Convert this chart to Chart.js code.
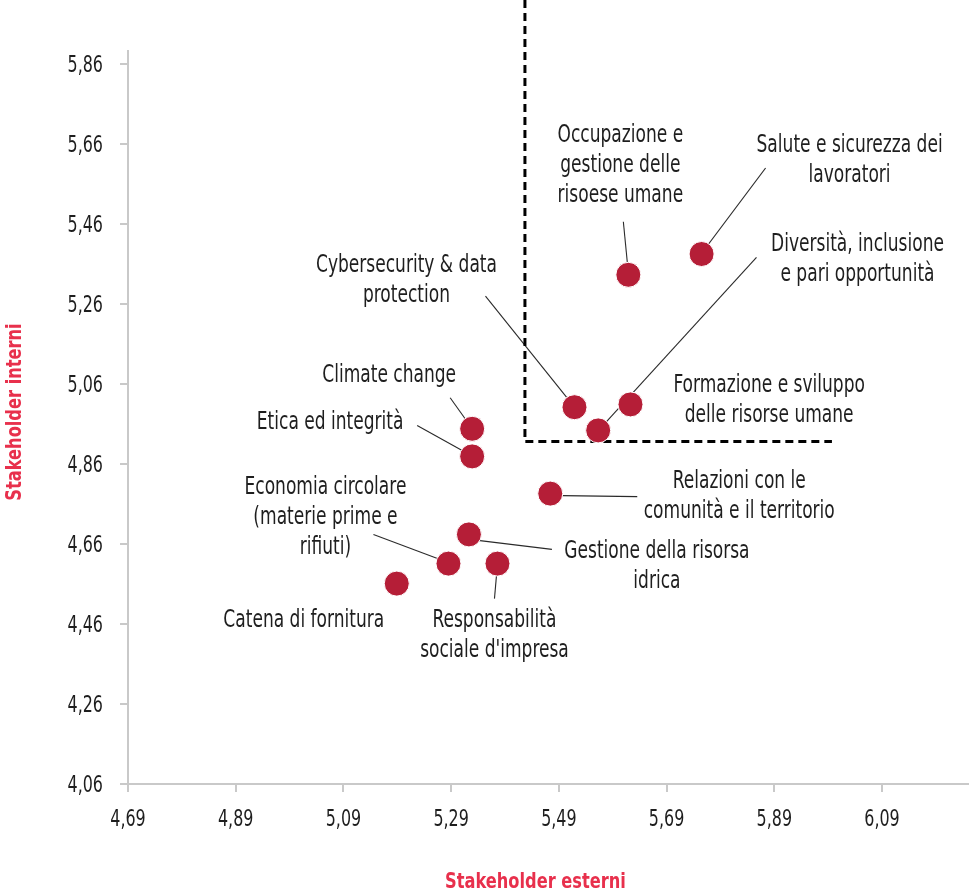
<!DOCTYPE html>
<html>
<head>
<meta charset="utf-8">
<script src="https://cdn.jsdelivr.net/npm/chart.js@4.4.1/dist/chart.umd.min.js"></script>
<style>
html,body{margin:0;padding:0;background:#ffffff;overflow:hidden;}
#wrap{width:969px;height:896px;position:relative;overflow:hidden;}
#c{display:block;}
</style>
</head>
<body>
<div id="wrap"><canvas id="c"></canvas></div>
<script>
// ---- DATA ----
const topics = [
  "Salute e sicurezza dei\nlavoratori",
  "Occupazione e\ngestione delle\nrisoese umane",
  "Cybersecurity & data\nprotection",
  "Formazione e sviluppo\ndelle risorse umane",
  "Diversità, inclusione\ne pari opportunità",
  "Relazioni con le\ncomunità e il territorio",
  "Climate change",
  "Etica ed integrità",
  "Gestione della risorsa\nidrica",
  "Economia circolare\n(materie prime e\nrifiuti)",
  "Responsabilità\nsociale d'impresa",
  "Catena di fornitura"
];
const stakeholderEsterni = [5.755, 5.619, 5.519, 5.563, 5.623, 5.474, 5.329, 5.329, 5.323, 5.285, 5.376, 5.189];
const stakeholderInterni = [5.385, 5.333, 5.002, 4.944, 5.009, 4.786, 4.948, 4.879, 4.684, 4.611, 4.611, 4.561];
const xTickValues = [4.69, 4.89, 5.09, 5.29, 5.49, 5.69, 5.89, 6.09];
const yTickValues = [4.06, 4.26, 4.46, 4.66, 4.86, 5.06, 5.26, 5.46, 5.66, 5.86];
const thresholdX = [5.427, 5.427, 5.997];
const thresholdY = [6.02, 4.916, 4.916];
const xTitle = "Stakeholder esterni";
const yTitle = "Stakeholder interni";

// ---- LABEL LAYOUT (pixel offsets from each point) ----
const labelLayout = [
  {dx: 148, dy: -108, leader: [64, -86, 7, -10]},
  {dx: -8, dy: -139, leader: [-5, -53, -1, -12]},
  {dx: -168, dy: -141, leader: [-89, -111, -8, -10]},
  {dx: 171, dy: -45, leader: null},
  {dx: 227, dy: -160, leader: [126, -147, -32, 26]},
  {dx: 189, dy: -12, leader: [12, 2, 87, 3]},
  {dx: -83, dy: -53, leader: [-22, -31, -7, -10]},
  {dx: -142, dy: -34, leader: [-55, -31, -10, -6]},
  {dx: 188, dy: 17, leader: [9, 6, 83, 15]},
  {dx: -123, dy: -76, leader: [-75, -29, -11, -5]},
  {dx: -3, dy: 57, leader: [-1, 12, -3, 35]},
  {dx: -93, dy: 37, leader: null}
];

const FONT = "'DejaVu Sans Condensed', 'Liberation Sans Narrow', 'DejaVu Sans', sans-serif";
const LABEL_SIZE = 24;
const LABEL_SX = 0.79;
const TICK_SIZE = 23;
const TICK_SX = 0.77;
const LINE_H = 30;
const AREA = {left: 128, top: 51, bottom: 784};

const fmt = v => Number(v).toFixed(2).replace('.', ',');

function squeezedText(ctx, text, x, y, sx) {
  ctx.save();
  ctx.translate(x, y);
  ctx.scale(sx, 1);
  ctx.fillText(text, 0, 0);
  ctx.restore();
}

const annotPlugin = {
  id: 'annot',
  beforeDatasetsDraw(chart) {
    const ctx = chart.ctx;
    const pts = chart.getDatasetMeta(0).data;
    ctx.save();
    ctx.strokeStyle = '#2a2a2a';
    ctx.lineWidth = 1.1;
    labelLayout.forEach((l, i) => {
      if (!l.leader) return;
      const p = pts[i];
      ctx.beginPath();
      ctx.moveTo(p.x + l.leader[0], p.y + l.leader[1]);
      ctx.lineTo(p.x + l.leader[2], p.y + l.leader[3]);
      ctx.stroke();
    });
    ctx.restore();
  },
  afterDatasetsDraw(chart) {
    const ctx = chart.ctx;
    const pts = chart.getDatasetMeta(0).data;
    ctx.save();
    ctx.fillStyle = '#1e1e1e';
    ctx.font = LABEL_SIZE + 'px ' + FONT;
    ctx.textAlign = 'center';
    ctx.textBaseline = 'middle';
    topics.forEach((t, i) => {
      const p = pts[i];
      const l = labelLayout[i];
      t.split('\n').forEach((line, k) => {
        squeezedText(ctx, line, p.x + l.dx, p.y + l.dy + k * LINE_H, LABEL_SX);
      });
    });
    // tick labels (positions from the library's scales)
    const xs = chart.scales.x, ys = chart.scales.y;
    ctx.font = TICK_SIZE + 'px ' + FONT;
    ctx.textBaseline = 'alphabetic';
    ctx.textAlign = 'center';
    xs.ticks.forEach(t => {
      squeezedText(ctx, fmt(t.value), xs.getPixelForValue(t.value), xs.top + 42, TICK_SX);
    });
    ctx.textAlign = 'right';
    ys.ticks.forEach(t => {
      squeezedText(ctx, fmt(t.value), ys.right - 25, ys.getPixelForValue(t.value) + 8.3, TICK_SX);
    });
    // axis titles
    ctx.fillStyle = '#e8304c';
    ctx.font = 'bold 22px ' + FONT;
    ctx.textAlign = 'center';
    ctx.textBaseline = 'middle';
    squeezedText(ctx, xTitle, 535.5, 882, 0.82);
    ctx.translate(15, 412);
    ctx.rotate(-Math.PI / 2);
    squeezedText(ctx, yTitle, 0, 0, 0.82);
    ctx.restore();
  }
};

new Chart(document.getElementById('c'), {
  type: 'scatter',
  data: {
    datasets: [
      {
        label: 'Temi materiali',
        data: stakeholderEsterni.map((x, i) => ({x: x, y: stakeholderInterni[i]})),
        backgroundColor: '#b51e37',
        borderColor: '#ffffff',
        borderWidth: 1,
        pointRadius: 12.5,
        pointHoverRadius: 12.5
      },
      {
        type: 'line',
        label: 'Soglia',
        data: thresholdX.map((x, i) => ({x: x, y: thresholdY[i]})),
        borderColor: '#000000',
        borderWidth: 3,
        borderDash: [8, 5],
        pointRadius: 0,
        fill: false,
        clip: false,
        tension: 0
      }
    ]
  },
  options: {
    responsive: true,
    maintainAspectRatio: false,
    animation: false,
    events: [],
    layout: {autoPadding: false, padding: {top: AREA.top, left: 0, right: 0, bottom: 0}},
    plugins: {legend: {display: false}, tooltip: {enabled: false}, title: {display: false}},
    scales: {
      x: {
        type: 'linear',
        min: 4.69,
        max: 6.2515,
        afterBuildTicks: s => { s.ticks = xTickValues.map(v => ({value: v})); },
        afterFit: s => { s.height = 896 - AREA.bottom; },
        grid: {drawOnChartArea: false, drawTicks: true, tickLength: 8, color: '#c9c9c9', lineWidth: 2},
        border: {display: true, color: '#c9c9c9', width: 2},
        ticks: {display: false}
      },
      y: {
        type: 'linear',
        min: 4.06,
        max: 5.8925,
        afterBuildTicks: s => { s.ticks = yTickValues.map(v => ({value: v})); },
        afterFit: s => { s.width = AREA.left; },
        grid: {drawOnChartArea: false, drawTicks: true, tickLength: 8, color: '#c9c9c9', lineWidth: 2},
        border: {display: true, color: '#c9c9c9', width: 2},
        ticks: {display: false}
      }
    }
  },
  plugins: [annotPlugin]
});
</script>
</body>
</html>
